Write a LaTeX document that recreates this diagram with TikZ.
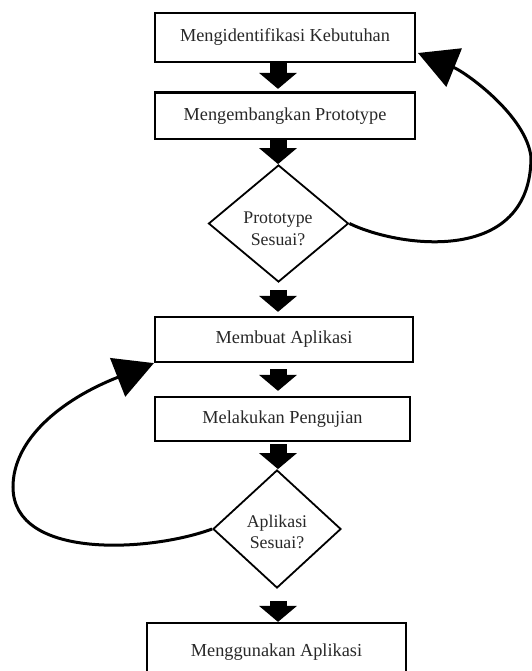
\documentclass[tikz,border=0pt]{standalone}
\usepackage{fontspec}
\setmainfont{Liberation Serif}
\usetikzlibrary{arrows.meta,shapes.geometric}
\definecolor{txt}{RGB}{40,40,40}
\begin{document}
\begin{tikzpicture}[x=1pt,y=-1pt,
  box/.style={draw,line width=2.2pt,inner sep=0pt,text=txt,font=\fontsize{18.3}{22}\selectfont},
  dia/.style={draw,diamond,line width=1.8pt,inner sep=0pt},
  dtext/.style={align=center,inner sep=0pt,text=txt,font=\fontsize{17.8}{21.5}\selectfont},
  blk/.style={line width=17pt,-{Triangle[length=16pt,width=37pt]}},
  loopline/.style={line width=3pt,-{Triangle[length=39pt,width=41pt]}}]
\useasboundingbox[fill=white] (0,0) rectangle (531,671);

\node[box,minimum width=260pt,minimum height=49pt] (b1) at (285,37.5) {Mengidentifikasi Kebutuhan};
\node[box,minimum width=260pt,minimum height=46.5pt] (b2) at (285,115.75) {Mengembangkan Prototype};
\node[dia,minimum width=140pt,minimum height=117pt] (d1) at (278.5,223.5) {};
\node[dtext] (d1t) at (278,229) {Prototype\\Sesuai?};
\node[box,minimum width=258pt,minimum height=45pt] (b3) at (284,339.5) {Membuat Aplikasi};
\node[box,minimum width=255pt,minimum height=44pt] (b4) at (282.5,419) {Melakukan Pengujian};
\node[dia,minimum width=128pt,minimum height=118pt] (d2) at (277,529) {};
\node[dtext] (d2t) at (277,532) {Aplikasi\\Sesuai?};
\node[box,minimum width=259pt,minimum height=58pt] (b5) at (276.5,652) {Menggunakan Aplikasi};

\coordinate (ax) at (278,0);
\coordinate (t1) at (418,53);

\draw[blk,shorten >=2.5pt] (b1.south -| ax) -- (b2.north -| ax);
\draw[blk] (b2.south -| ax) -- (d1.north -| ax);
\draw[blk,shorten <=7pt,shorten >=4pt] (d1.south -| ax) -- (b3.north -| ax);
\draw[blk,shorten <=6pt,shorten >=5pt] (b3.south -| ax) -- (b4.north -| ax);
\draw[blk,shorten <=2pt] (b4.south -| ax) -- (d2.north -| ax);
\draw[blk,shorten <=12pt] (d2.south -| ax) -- (b5.north -| ax);

\draw[loopline] (d1.east) .. controls (400,248) and (531,265) .. (531,157)
  .. controls (526,115) and (465,72) .. (t1);
\draw[loopline] (d2.west) .. controls (150,552) and (13,560) .. (13,487)
  .. controls (13,440) and (60,400) .. (b3.south west);
\end{tikzpicture}
\end{document}
